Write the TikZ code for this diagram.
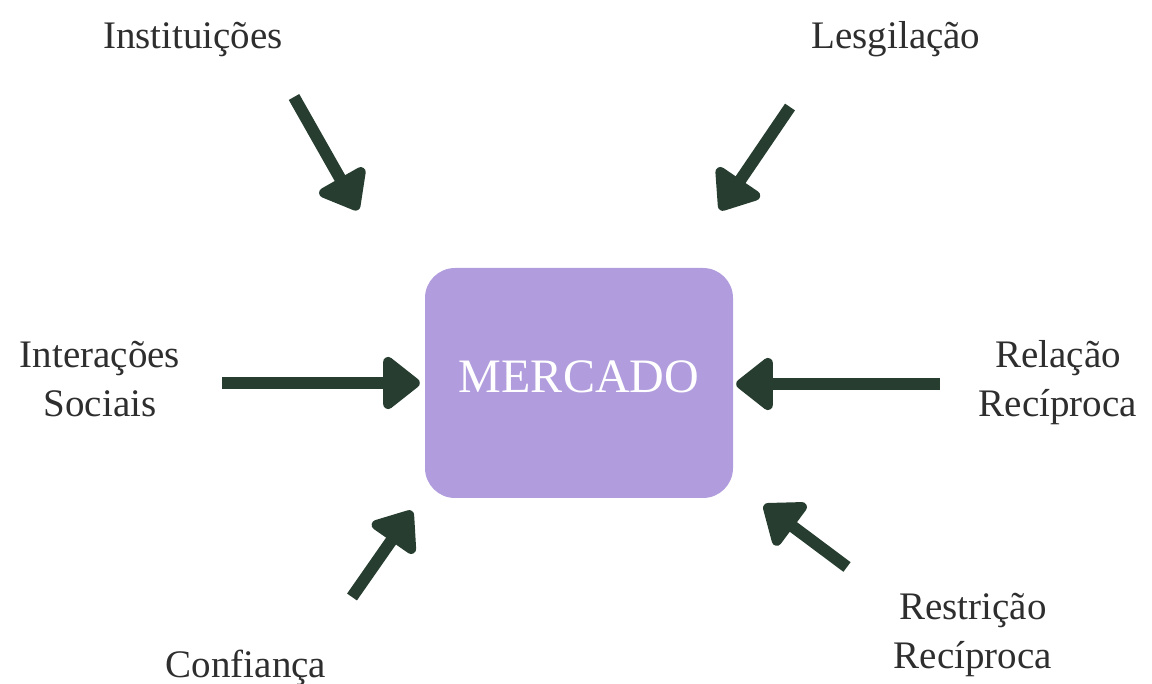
\documentclass[tikz,border=0pt]{standalone}
\usepackage{fontspec}
\setmainfont{Liberation Serif}
\usetikzlibrary{arrows.meta}

\definecolor{seta}{HTML}{263D30}
\definecolor{lilas}{HTML}{B19DDD}
\definecolor{texto}{HTML}{2E2E2E}

\tikzset{
  rotulo/.style={text=texto, font=\fontsize{39}{49}\selectfont, align=center, inner sep=0pt},
  flecha/.style={draw=seta, line width=12pt, -{Triangle[width=60pt,length=40pt,round]}},
}

\begin{document}
\begin{tikzpicture}[x=1pt, y=-1pt]

\useasboundingbox (0,0) rectangle (1152,684);

% caixa central
\node[fill=lilas, rounded corners=30pt, minimum width=308pt, minimum height=230pt,
      text=white, font=\fontsize{48}{50}\selectfont, text depth=12pt] (mercado) at (579,383) {MERCADO};

% rotulos (base = ultima linha)
\node[rotulo, anchor=base] (inst) at (193,49) {Instituições};
\node[rotulo, anchor=base] (legis) at (896,49) {Lesgilação};
\node[rotulo, anchor=base] (inter) at (100,417) {Interações\\Sociais};
\node[rotulo, anchor=base] (relacao) at (1058,417) {Relação\\Recíproca};
\node[rotulo, anchor=base] (restr) at (973,668) {Restrição\\Recíproca};
\node[rotulo, anchor=base] (conf) at (246,677) {Confiança};

% pontas das setas
\coordinate (inst-a) at (294,97);
\coordinate (inst-b) at (358,210);
\coordinate (legis-a) at (790,107);
\coordinate (legis-b) at (720,210);
\coordinate (inter-a) at (222,383);
\coordinate (relacao-a) at (940,384);
\coordinate (conf-a) at (352,597);
\coordinate (conf-b) at (412,511);
\coordinate (restr-a) at (847,567);
\coordinate (restr-b) at (764,505);

\draw[flecha] (inst-a) -- (inst-b);
\draw[flecha] (legis-a) -- (legis-b);
\draw[flecha] (inter-a) -- ([xshift=-5pt]mercado.west |- inter-a);
\draw[flecha] (relacao-a) -- ([xshift=3pt]mercado.east |- relacao-a);
\draw[flecha] (conf-a) -- (conf-b);
\draw[flecha] (restr-a) -- (restr-b);

\end{tikzpicture}
\end{document}
